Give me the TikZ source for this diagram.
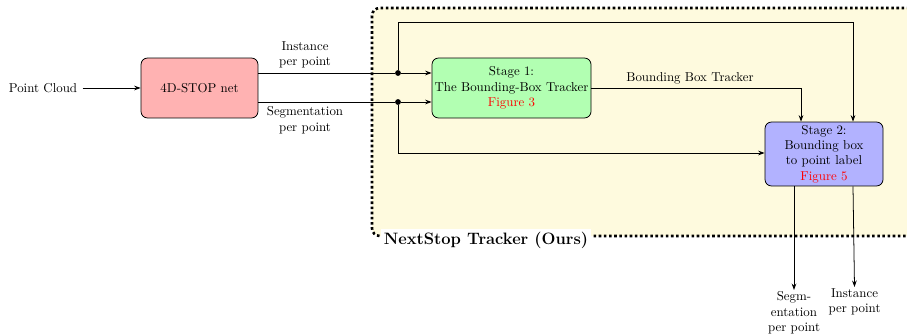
\documentclass[tikz,border=0pt]{standalone}
\usetikzlibrary{arrows.meta,calc}
\definecolor{panel}{RGB}{254,250,222}
\begin{document}
\begin{tikzpicture}[x=0.7755pt,y=-0.7755pt,
  >={Stealth[length=5pt,width=3.6pt]},
  block/.style={draw, line width=0.6pt, rounded corners=5pt, align=center, inner sep=2pt},
  lbl/.style={align=center, inner sep=1pt},
  link/.style={->, line width=0.6pt},
  junction/.style={circle, fill, inner sep=0pt, minimum size=4.5pt}]
\useasboundingbox (0,0) rectangle (907,335);

% dotted panel around our method
\begin{scope}
  \clip (0,0) rectangle (907,335);
  \draw[fill=panel, rounded corners=6pt, line width=2pt, dash pattern=on 2pt off 2pt]
    (372,8) rectangle (940,236);
\end{scope}
\node[fill=white, font=\fontsize{12.8}{15}\selectfont\bfseries, inner sep=2pt] (title) at (486,240) {NextStop Tracker (Ours)};

% blocks
\node[lbl] (pc) at (43,88) {Point Cloud};
\node[block, fill=red!30, minimum width=90.7pt, minimum height=46.5pt] (net) at (199.5,88) {4D-STOP net};
\node[block, fill=green!30, minimum width=123.3pt, minimum height=46.5pt] (s1) at (511.5,88)
  {Stage 1:\\The Bounding-Box Tracker\\\textcolor{red}{Figure 3}};
\node[block, fill=blue!30, minimum width=91.5pt, minimum height=49.6pt] (s2) at (824,154)
  {Stage 2:\\Bounding box\\to point label\\\textcolor{red}{Figure 5}};

% junctions and routing points
\node[junction] (d1) at (398,73) {};
\node[junction] (d2) at (398,102) {};
\coordinate (top) at (853,22);
\coordinate (low) at (398,153);
\coordinate (bb) at (801,88);

% edge labels
\node[lbl] (inst) at (305,55) {Instance\\per point};
\node[lbl] (segm) at (305,120) {Segmentation\\per point};
\node[lbl] (bbt) at (690,78) {Bounding Box Tracker};
\node[lbl, anchor=north] (outseg) at (794,290) {Segm-\\entation\\per point};
\node[lbl, anchor=north] (outinst) at (854.5,287) {Instance\\per point};

% connectors
\draw[link, shorten <=3pt] (pc) -- (net);
\draw[line width=0.6pt] (net.east |- d1) -- (d1);
\draw[link] (d1) -- (s1.west |- d1);
\draw[line width=0.6pt] (net.east |- d2) -- (d2);
\draw[link] (d2) -- (s1.west |- d2);
\draw[link] (d1) -- (d1 |- top) -- (top) -- (s2.north -| top);
\draw[link] (d2) -- (low) -- (s2.west |- low);
\draw[link] (s1.east) -- (bb) -- (s2.north -| bb);
\draw[link] (s2.south -| outseg) -- (outseg.north);
\draw[link] (s2.south -| top) -- (outinst.north);
\end{tikzpicture}
\end{document}
